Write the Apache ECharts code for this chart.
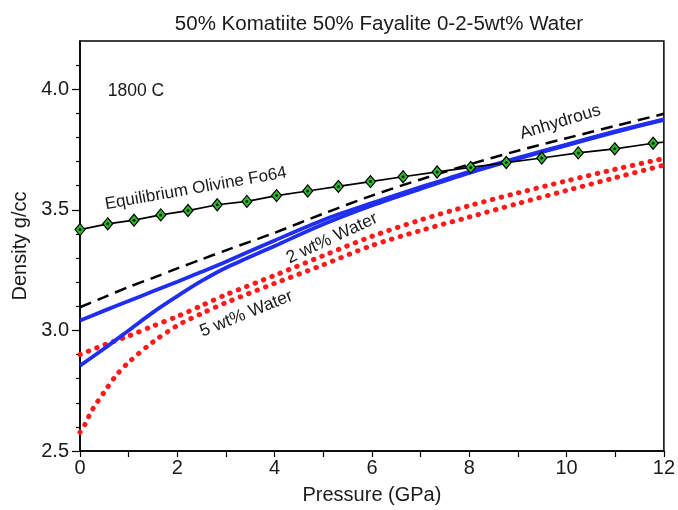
<!DOCTYPE html>
<html>
<head>
<meta charset="utf-8">
<script src="https://cdn.jsdelivr.net/npm/echarts@6/dist/echarts.min.js"></script>
<style>
  html, body { margin: 0; padding: 0; background: #fff; }
  #chart { width: 678px; height: 510px; }
</style>
</head>
<body>
<div id="chart"></div>
<script>
  // pressure (GPa) steps used by the model curves
  const pressure = [0, 0.5, 1, 1.5, 2, 2.5, 3, 4, 5, 6, 7, 8, 9, 10, 11, 12];
  const anhydrous = [3.096, 3.138, 3.180, 3.218, 3.257, 3.295, 3.332, 3.405, 3.484, 3.559, 3.626, 3.688, 3.745, 3.797, 3.848, 3.898];
  const water2Upper = [3.041, 3.082, 3.122, 3.162, 3.202, 3.243, 3.285, 3.373, 3.458, 3.528, 3.594, 3.658, 3.716, 3.771, 3.825, 3.875];
  const water2Lower = [2.854, 2.925, 3.000, 3.075, 3.142, 3.205, 3.260, 3.350, 3.440, 3.518, 3.587, 3.653, 3.712, 3.767, 3.822, 3.873];
  const water5Upper = [2.900, 2.940, 2.977, 3.018, 3.058, 3.103, 3.148, 3.228, 3.310, 3.390, 3.458, 3.517, 3.570, 3.620, 3.668, 3.713];

  // the low 5 wt% curve bends hard near zero so it gets more steps there
  const pressure5Lower = [0, 0.1, 0.25, 0.5, 0.75, 1, 1.5, 2, 2.5, 3, 4, 5, 6, 7, 8, 9, 10, 11, 12];
  const water5Lower = [2.577, 2.610, 2.670, 2.745, 2.815, 2.868, 2.952, 3.020, 3.070, 3.115, 3.195, 3.272, 3.352, 3.414, 3.470, 3.526, 3.580, 3.633, 3.685];

  // equilibrium olivine Fo64 (diamonds)
  const olivineP = [0, 0.57, 1.11, 1.66, 2.22, 2.82, 3.43, 4.04, 4.68, 5.31, 5.97, 6.64, 7.34, 8.03, 8.76, 9.49, 10.24, 10.99, 11.78, 12];
  const olivineD = [3.418, 3.442, 3.457, 3.479, 3.497, 3.521, 3.535, 3.559, 3.578, 3.597, 3.617, 3.637, 3.657, 3.676, 3.696, 3.715, 3.736, 3.753, 3.776, 3.781];

  const yTicks = [2.5, 3.0, 3.5, 4.0];
  const yMinorTicks = [2.6, 2.7, 2.8, 2.9, 3.1, 3.2, 3.3, 3.4, 3.6, 3.7, 3.8, 3.9, 4.1];

  const pairs = (xs, ys) => xs.map((x, i) => [x, ys[i]]);

  const font = '"Liberation Sans", Arial, Helvetica, sans-serif';
  const textColor = '#1a1a1a';
  const blue = '#1f2ef0';
  const red = '#ff1a1a';

  const chart = echarts.init(document.getElementById('chart'), null, {renderer: 'canvas'});

  const olivineData = pairs(olivineP, olivineD).map((p, i) =>
    i === olivineP.length - 1 ? {value: p, symbol: 'none'} : p);

  chart.setOption({
    animation: false,
    backgroundColor: '#fff',
    title: {
      text: '50% Komatiite 50% Fayalite 0-2-5wt% Water',
      left: 374,
      textAlign: 'center',
      top: 9,
      textStyle: {fontFamily: font, fontSize: 20.5, fontWeight: 'normal', color: textColor}
    },
    grid: {
      left: 80, right: 11, top: 41, bottom: 58,
      show: true, borderColor: '#000', borderWidth: 1.5, backgroundColor: 'transparent'
    },
    xAxis: {
      type: 'value',
      min: 0, max: 12, interval: 1,
      name: 'Pressure (GPa)',
      nameLocation: 'middle',
      nameGap: 34,
      nameTextStyle: {fontFamily: font, fontSize: 20, color: textColor},
      axisLine: {lineStyle: {color: '#000', width: 1.5}},
      axisTick: {length: 6, lineStyle: {color: '#000', width: 1.2}},
      axisLabel: {
        margin: 7,
        fontFamily: font, fontSize: 20, color: textColor,
        formatter: v => (v % 2 === 0 ? String(v) : '')
      },
      splitLine: {show: false}
    },
    yAxis: [
      {
        type: 'value',
        min: 2.5, max: 4.2,
        name: 'Density g/cc',
        nameLocation: 'middle',
        nameGap: 49,
        nameTextStyle: {fontFamily: font, fontSize: 20, color: textColor},
        axisLine: {show: true, lineStyle: {color: '#000', width: 1.5}},
        axisTick: {show: true, customValues: yTicks, length: 8, lineStyle: {color: '#000', width: 1.2}},
        axisLabel: {
          customValues: yTicks,
          margin: 11,
          fontFamily: font, fontSize: 20, color: textColor,
          formatter: v => v.toFixed(1)
        },
        splitLine: {show: false}
      },
      {
        // minor ticks only
        type: 'value',
        min: 2.5, max: 4.2,
        position: 'left',
        offset: 0,
        axisLine: {show: false},
        axisTick: {show: true, customValues: yMinorTicks, length: 4, lineStyle: {color: '#000', width: 1.2}},
        axisLabel: {show: false},
        splitLine: {show: false}
      }
    ],
    series: [
      {
        name: '5 wt% Water (low)',
        type: 'line',
        data: pairs(pressure5Lower, water5Lower),
        smooth: 0.3,
        showSymbol: false,
        lineStyle: {color: red, width: 5, type: [0.5, 8.5], cap: 'round'}
      },
      {
        name: '5 wt% Water',
        type: 'line',
        data: pairs(pressure, water5Upper),
        smooth: 0.3,
        showSymbol: false,
        lineStyle: {color: red, width: 5, type: [0.5, 8.5], cap: 'round'}
      },
      {
        name: 'Anhydrous',
        type: 'line',
        data: pairs(pressure, anhydrous),
        smooth: 0.3,
        showSymbol: false,
        lineStyle: {color: '#000', width: 2.5, type: [12, 7]}
      },
      {
        name: '2 wt% Water (low)',
        type: 'line',
        data: pairs(pressure, water2Lower),
        smooth: 0.3,
        showSymbol: false,
        lineStyle: {color: blue, width: 3.8}
      },
      {
        name: '2 wt% Water',
        type: 'line',
        data: pairs(pressure, water2Upper),
        smooth: 0.3,
        showSymbol: false,
        lineStyle: {color: blue, width: 3.8}
      },
      {
        name: 'Equilibrium Olivine Fo64',
        type: 'line',
        data: olivineData,
        symbol: 'diamond',
        symbolSize: [10, 12],
        showAllSymbol: true,
        lineStyle: {color: '#000', width: 1.7},
        itemStyle: {color: '#2db82d', borderColor: '#000', borderWidth: 1.2},
        z: 5
      },
      {
        // black dot in the middle of each diamond
        type: 'scatter',
        data: pairs(olivineP.slice(0, -1), olivineD.slice(0, -1)),
        symbol: 'circle',
        symbolSize: 3,
        itemStyle: {color: '#000'},
        z: 6
      }
    ]
  });

  // curve labels, placed in data coordinates
  const labels = [
    {text: '1800 C', at: [1.15, 3.99], rot: 0, size: 17.5},
    {text: 'Equilibrium Olivine Fo64', at: [2.38, 3.588], rot: 10, size: 17},
    {text: 'Anhydrous', at: [9.87, 3.864], rot: 17, size: 17.5},
    {text: '2 wt% Water', at: [5.18, 3.382], rot: 25, size: 17.5},
    {text: '5 wt% Water', at: [3.42, 3.069], rot: 22, size: 17.5}
  ];

  chart.setOption({
    graphic: labels.map(l => {
      const [px, py] = chart.convertToPixel({xAxisIndex: 0, yAxisIndex: 0}, l.at);
      return {
        type: 'text',
        x: px, y: py,
        rotation: l.rot * Math.PI / 180,
        z: 10,
        style: {
          text: l.text,
          font: l.size + 'px ' + font,
          fill: textColor,
          align: 'center',
          verticalAlign: 'middle'
        }
      };
    })
  });
</script>
</body>
</html>
